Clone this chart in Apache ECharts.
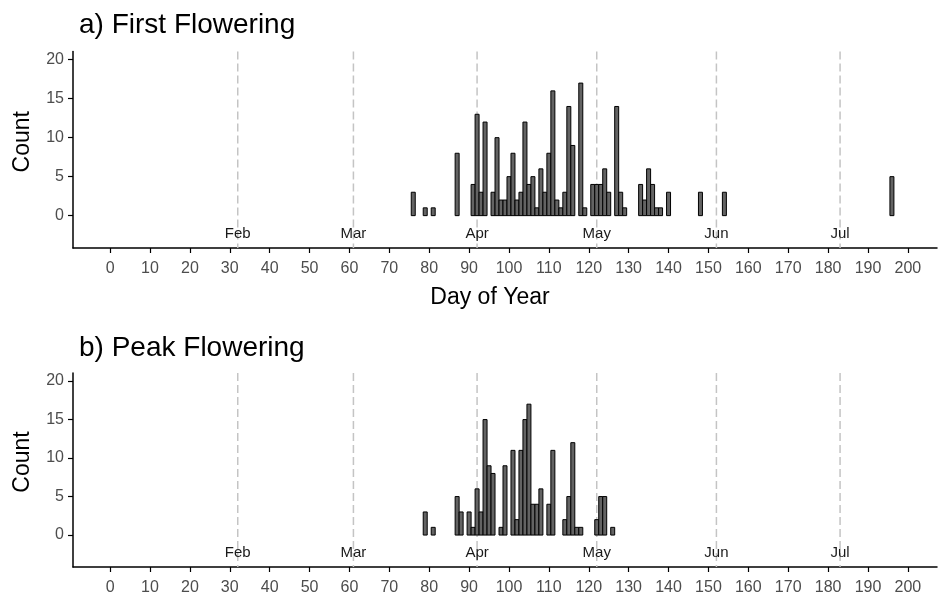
<!DOCTYPE html>
<html>
<head>
<meta charset="utf-8">
<script src="https://cdn.jsdelivr.net/npm/echarts@6/dist/echarts.min.js"></script>
<style>
  html, body { margin: 0; padding: 0; background: #fff; }
  #chart { width: 939px; height: 598px; }
</style>
</head>
<body>
<div id="chart"></div>
<script>
// a) first flowering: day of year -> count
const firstDays   = [76, 79, 81, 87, 91, 92, 93, 94, 96, 97, 98, 99, 100, 101, 102, 103, 104, 105, 106, 107, 108, 109, 110, 111, 112, 113, 114, 115, 116, 118, 119, 121, 122, 123, 124, 125, 127, 128, 129, 133, 134, 135, 136, 137, 138, 140, 148, 154, 196];
const firstCounts = [3, 1, 1, 8, 4, 13, 3, 12, 3, 10, 2, 2, 5, 8, 2, 3, 12, 4, 5, 1, 6, 3, 8, 16, 2, 1, 3, 14, 9, 17, 1, 4, 4, 4, 6, 3, 14, 3, 1, 4, 2, 6, 4, 1, 1, 3, 3, 3, 5];

// b) peak flowering
const peakDays   = [79, 81, 87, 88, 90, 91, 92, 93, 94, 95, 96, 98, 99, 101, 102, 103, 104, 105, 106, 107, 108, 110, 111, 114, 115, 116, 117, 118, 122, 123, 124, 126];
const peakCounts = [3, 1, 5, 3, 3, 1, 6, 3, 15, 9, 8, 1, 9, 11, 2, 11, 15, 17, 4, 4, 6, 4, 11, 2, 5, 12, 1, 1, 2, 5, 5, 1];

// first day of each month (vertical dashed lines)
const monthDays  = [32, 61, 92, 122, 152, 183];
const monthNames = ['Feb', 'Mar', 'Apr', 'May', 'Jun', 'Jul'];

const xTicks = [0, 10, 20, 30, 40, 50, 60, 70, 80, 90, 100, 110, 120, 130, 140, 150, 160, 170, 180, 190, 200];
const yTicks = [0, 5, 10, 15, 20];

const X_MIN = -9.3, X_MAX = 207.3;
const Y_MIN = -4.15, Y_MAX = 21.05;
const FONT = "'Liberation Sans', Arial, sans-serif";

const chart = echarts.init(document.getElementById('chart'));

function histBar(params, api) {
  const d = api.value(0);
  const c = api.value(1);
  const p0 = api.coord([d - 0.5, c]);
  const p1 = api.coord([d + 0.5, 0]);
  return {
    type: 'rect',
    shape: { x: p0[0], y: p0[1], width: p1[0] - p0[0], height: p1[1] - p0[1] },
    style: { fill: '#636363', stroke: '#000', lineWidth: 1 }
  };
}

function monthLine(params, api) {
  const d = api.value(0);
  const top = api.coord([d, Y_MAX]);
  const bot = api.coord([d, Y_MIN]);
  const lab = api.coord([d, -2.3]);
  return {
    type: 'group',
    children: [
      {
        type: 'line',
        shape: { x1: top[0], y1: top[1], x2: bot[0], y2: bot[1] },
        style: { stroke: '#c4c4c4', lineWidth: 1.5, lineDash: [8, 4] }
      },
      {
        type: 'text',
        x: lab[0], y: lab[1],
        style: {
          text: monthNames[api.value(1)],
          fill: '#1a1a1a', font: '15px ' + FONT,
          align: 'center', verticalAlign: 'middle'
        }
      }
    ]
  };
}

function xAxisFor(idx, withName) {
  return {
    type: 'value', gridIndex: idx, min: X_MIN, max: X_MAX,
    name: withName ? 'Day of Year' : '',
    nameLocation: 'middle', nameGap: 38,
    nameTextStyle: { color: '#000', fontSize: 23, fontFamily: FONT, padding: [0, 30, 0, 0] },
    axisLine: { show: true, onZero: false, lineStyle: { color: '#000', width: 1.5 } },
    axisTick: { show: true, length: 5, lineStyle: { color: '#000', width: 1.2 }, customValues: xTicks },
    axisLabel: { color: '#4d4d4d', fontSize: 16, fontFamily: FONT, margin: 13, customValues: xTicks },
    splitLine: { show: false }
  };
}

function yAxisFor(idx) {
  return {
    type: 'value', gridIndex: idx, min: Y_MIN, max: Y_MAX,
    name: 'Count', nameLocation: 'middle', nameGap: 39, nameRotate: 90,
    nameTextStyle: { color: '#000', fontSize: 23, fontFamily: FONT, padding: [0, 0, 0, 16] },
    axisLine: { show: true, onZero: false, lineStyle: { color: '#000', width: 1.5 } },
    axisTick: { show: true, length: 5, lineStyle: { color: '#000', width: 1.2 }, customValues: yTicks },
    axisLabel: { color: '#4d4d4d', fontSize: 16, fontFamily: FONT, margin: 9, customValues: yTicks },
    splitLine: { show: false }
  };
}

const option = {
  animation: false,
  backgroundColor: '#fff',
  title: [
    { text: 'a) First Flowering', left: 74, top: 6, textStyle: { fontSize: 28, fontWeight: 'normal', color: '#000', fontFamily: FONT } },
    { text: 'b) Peak Flowering', left: 74, top: 329, textStyle: { fontSize: 28, fontWeight: 'normal', color: '#000', fontFamily: FONT } }
  ],
  grid: [
    { left: 73, right: 2, top: 51.5, height: 196.5 },
    { left: 73, right: 2, top: 373, height: 194 }
  ],
  xAxis: [xAxisFor(0, true), xAxisFor(1, false)],
  yAxis: [yAxisFor(0), yAxisFor(1)],
  series: [
    {
      type: 'custom', xAxisIndex: 0, yAxisIndex: 0,
      data: monthDays.map((d, i) => [d, i]), renderItem: monthLine, z: 1
    },
    {
      type: 'custom', xAxisIndex: 1, yAxisIndex: 1,
      data: monthDays.map((d, i) => [d, i]), renderItem: monthLine, z: 1
    },
    {
      type: 'custom', xAxisIndex: 0, yAxisIndex: 0,
      data: firstDays.map((d, i) => [d, firstCounts[i]]), renderItem: histBar, z: 2
    },
    {
      type: 'custom', xAxisIndex: 1, yAxisIndex: 1,
      data: peakDays.map((d, i) => [d, peakCounts[i]]), renderItem: histBar, z: 2
    }
  ]
};

chart.setOption(option);
</script>
</body>
</html>
